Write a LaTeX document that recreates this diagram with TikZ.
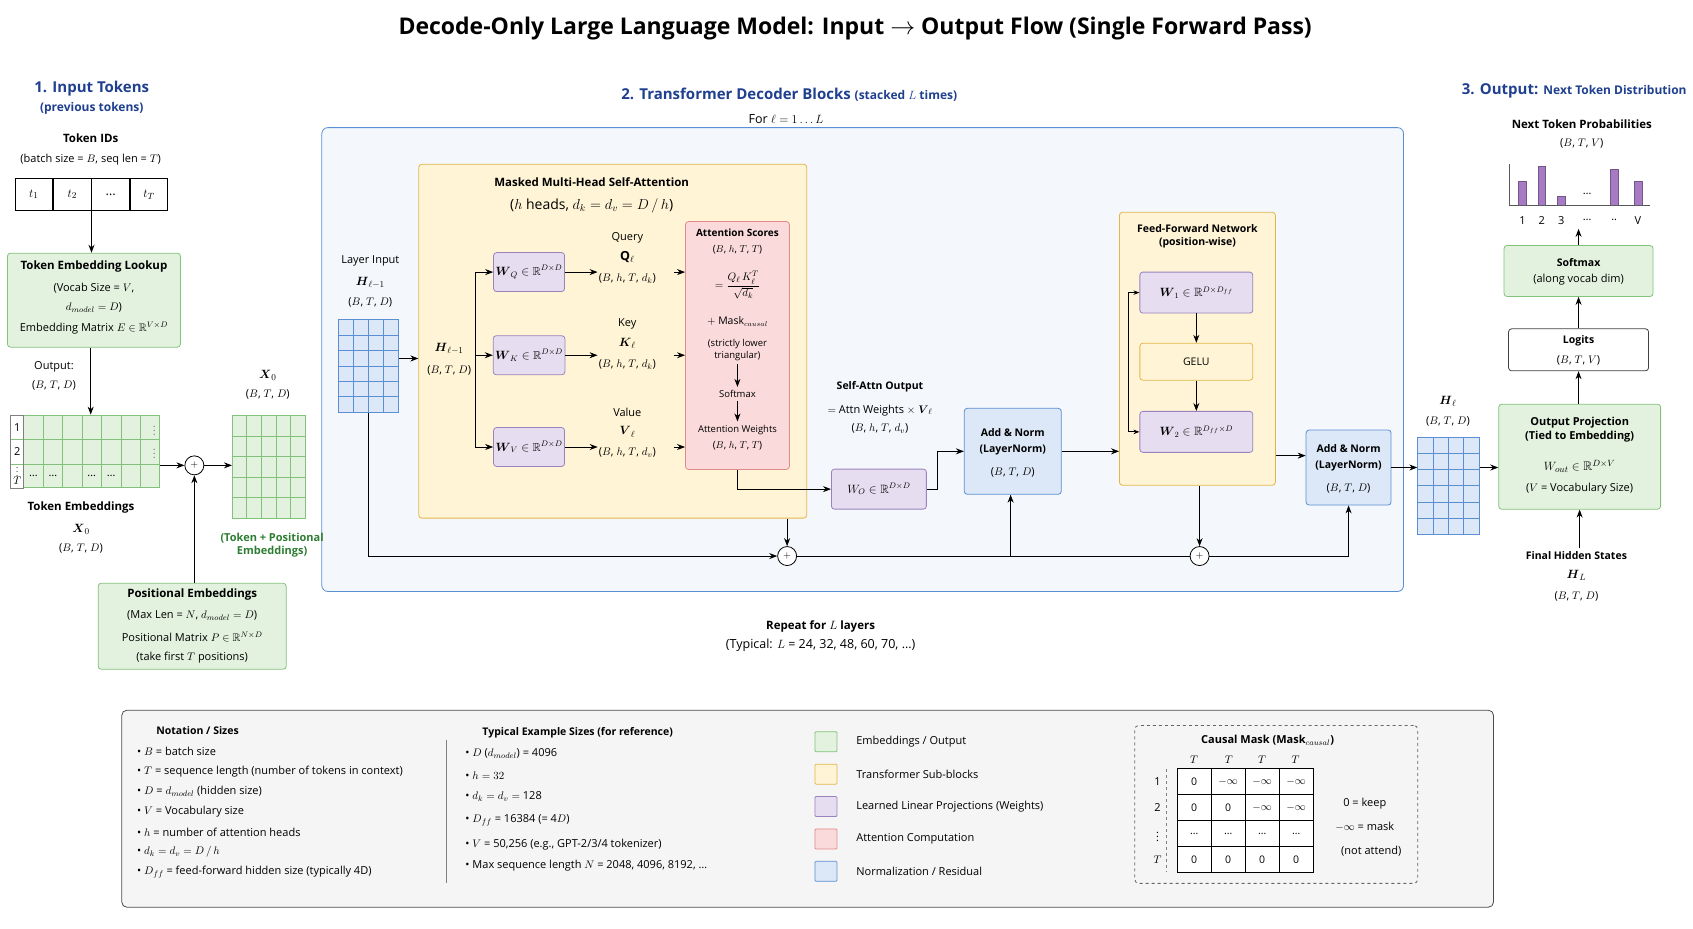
\documentclass[tikz,border=0pt]{standalone}
\usepackage{fontspec}
\usepackage{amsmath,amssymb}
\setmainfont{Open Sans}
\usetikzlibrary{arrows.meta,positioning,calc}
\definecolor{grnL}{HTML}{E3F2DF}\definecolor{grnD}{HTML}{82C27A}
\definecolor{yelL}{HTML}{FFF4D6}\definecolor{yelD}{HTML}{E3B64A}
\definecolor{purL}{HTML}{E6DEF0}\definecolor{purD}{HTML}{9A82BE}
\definecolor{pnkL}{HTML}{FADADA}\definecolor{pnkD}{HTML}{E28A8A}
\definecolor{bluL}{HTML}{DCE8F8}\definecolor{bluD}{HTML}{5B8FD3}
\definecolor{blkL}{HTML}{F4F7FC}\definecolor{hdr}{HTML}{1F3F8F}
\definecolor{gtxt}{HTML}{2E7D32}\definecolor{barc}{HTML}{A77BC4}
\newcommand{\fs}[1]{\fontsize{#1}{\fpeval{1.25*#1}}\selectfont}
\tikzset{
  box/.style={draw, rounded corners=3pt, thick, align=center, inner sep=2pt},
  green/.style={box, draw=grnD, fill=grnL},
  yel/.style={box, draw=yelD, fill=yelL},
  pur/.style={box, draw=purD, fill=purL},
  pnk/.style={box, draw=pnkD, fill=pnkL},
  blu/.style={box, draw=bluD, fill=bluL},
  txt/.style={align=center, font=\fs{12.5}, inner sep=1pt},
  sm/.style={align=center, font=\fs{11}, inner sep=1pt},
  bt/.style={align=center, font=\fs{11.5}\bfseries, inner sep=1pt},
  li/.style={anchor=west, font=\fs{11}, inner sep=1pt},
  arr/.style={-{Stealth[length=8pt,width=6pt]}, thick},
  plus/.style={draw, circle, thick, fill=white, minimum size=19pt, inner sep=0pt},
  cell/.style={draw, thick, minimum width=37.6pt, minimum height=32.4pt, inner sep=0pt, font=\fs{13}}
}
\begin{document}
\begin{tikzpicture}[x=1.08pt,y=-1.08pt]
\useasboundingbox (0,0) rectangle (1568,860);

% title and headers
\node[font=\fs{23}\bfseries] (title) at (792,26) {Decode-Only Large Language Model: Input \(\rightarrow\) Output Flow (Single Forward Pass)};
\node[font=\fs{15}\bfseries, text=hdr] (h1) at (85,82) {1. Input Tokens};
\node[font=\fs{12}\bfseries, text=hdr] (h1b) at (85,100) {(previous tokens)};
\node[font=\fs{15}\bfseries, text=hdr] (h2) at (731,88) {2. Transformer Decoder Blocks {\fs{12}(stacked \(L\) times)}};
\node[txt] (forl) at (728,110) {For \(\ell = 1 \ldots L\)};
\node[font=\fs{15}\bfseries, text=hdr] (h3) at (1458,84) {3. Output: {\fs{12}Next Token Distribution}};

% big block
\node[draw=bluD, fill=blkL, thick, rounded corners=6pt, minimum width=1082pt, minimum height=464pt] (block) at (799,333) {};

% input tokens
\node[bt] (tidl) at (84,128) {Token IDs};
\node[sm] (tids) at (84,148) {(batch size = \(B\), seq len = \(T\))};
\node[cell] (t1) at (31.4,180) {\(t_1\)};
\node[cell, right=0pt of t1] (t2) {\(t_2\)};
\node[cell, right=0pt of t2] (t3) {\dots};
\node[cell, right=0pt of t3] (t4) {\(t_T\)};

\node[green, minimum width=173pt, minimum height=94pt] (tokemb) at (87,278) {};
\node[bt] (te1) at (87,247) {Token Embedding Lookup};
\node[sm] (te2) at (87,267) {(Vocab Size = \(V\),};
\node[sm] (te3) at (87,285) {\(d_{model} = D\))};
\node[sm] (te4) at (87,304) {Embedding Matrix \(E \in \mathbb{R}^{V\times D}\)};
\node[sm] (out1) at (50,340) {Output:};
\node[sm] (out2) at (50,357) {(\(B\), \(T\), \(D\))};

% token embeddings grid
\node[draw=grnD, fill=grnL, thick, minimum width=149pt, minimum height=72pt, inner sep=0pt] (xemb) at (79,418.5) {};
\fill[white] (10,385) rectangle (22,452);
\foreach \i in {0,...,6} \draw[grnD, thick] (22+\i*18.0,385) -- ++(0,67);
\draw[grnD, thick] (10,407) -- (148,407) (10,430) -- (148,430);
\draw[gray, thick] (10,385) rectangle (22,452);
\node[sm] (r1) at (16,396) {1};
\node[sm] (r2) at (16,418) {2};
\node[font=\fs{8}, inner sep=0pt] (r3) at (16,434) {\(\vdots\)};
\node[sm] (r4) at (16,445) {\(T\)};
\foreach \i in {0,1,3,4} \node[sm] at (31+\i*18,441) {\dots};
\foreach \y in {396,418} \node[sm, gray] at (143,\y) {\(\vdots\)};
\node[bt] (tel) at (75,470) {Token Embeddings};
\node[txt] (tex) at (75,490) {\(\boldsymbol{X}_0\)};
\node[sm] (ted) at (75,508) {(\(B\), \(T\), \(D\))};

\node[plus] (add0) at (180,431) {\(+\)};

\node[draw=grnD, fill=grnL, thick, minimum width=73pt, minimum height=103pt, inner sep=0pt] (x0) at (249,432.5) {};
\foreach \i in {1,...,4} \draw[grnD, thick] (215+\i*13.6,385) -- ++(0,95);
\foreach \i in {1,...,4} \draw[grnD, thick] (215,385+\i*19) -- ++(68,0);
\node[txt] (x0l) at (248,348) {\(\boldsymbol{X}_0\)};
\node[sm] (x0d) at (248,365) {(\(B\), \(T\), \(D\))};
\node[font=\fs{11}\bfseries, text=gtxt, align=center] (x0c) at (252,505) {(Token + Positional\\Embeddings)};

\node[green, minimum width=188pt, minimum height=86pt] (posemb) at (178,580) {};
\node[bt] (pe1) at (178,551) {Positional Embeddings};
\node[sm] (pe2) at (178,570) {(Max Len = \(N\), \(d_{model} = D\))};
\node[sm] (pe3) at (178,590) {Positional Matrix \(P \in \mathbb{R}^{N\times D}\)};
\node[sm] (pe4) at (178,609) {(take first \(T\) positions)};

\draw[arr] (t2.south east) -- (t2.south east |- tokemb.north);
\draw[arr] (tokemb.south -| 84,0) -- (84,384);
\draw[arr] (xemb.east |- add0) -- (add0);
\draw[arr] (add0) -- (add0 -| x0.west);
\draw[arr] (posemb.north -| add0) -- (add0);

% layer input
\node[sm] (li1) at (343,242) {Layer Input};
\node[txt] (li2) at (343,262) {\(\boldsymbol{H}_{\ell-1}\)};
\node[sm] (li3) at (343,280) {(\(B\), \(T\), \(D\))};
\node[draw=bluD, fill=bluL, thick, minimum width=60.5pt, minimum height=93pt, inner sep=0pt] (hin) at (341,339) {};
\foreach \i in {1,...,3} \draw[bluD, thick] (313+\i*14,296) -- ++(0,86);
\foreach \i in {1,...,5} \draw[bluD, thick] (313,296+\i*14.3) -- ++(56,0);

% attention block
\node[yel, minimum width=388pt, minimum height=354pt] (attn) at (567.5,316) {};
\node[bt] (at1) at (548,169) {Masked Multi-Head Self-Attention};
\node[font=\fs{14}] (at2) at (548,191) {(\(h\) heads, \(d_k = d_v = D\,/\,h\))};
\node[txt] (hh1) at (416,323) {\(\boldsymbol{H}_{\ell-1}\)};
\node[sm] (hh2) at (416,343) {(\(B\), \(T\), \(D\))};
\coordinate (split) at (440,332);
\node[pur, minimum width=71pt, minimum height=39pt, font=\fs{11.5}] (wq) at (490,252) {\(\boldsymbol{W}_Q \in \mathbb{R}^{D\times D}\)};
\node[pur, minimum width=71pt, minimum height=39pt, font=\fs{11.5}] (wk) at (490,329) {\(\boldsymbol{W}_K \in \mathbb{R}^{D\times D}\)};
\node[pur, minimum width=71pt, minimum height=39pt, font=\fs{11.5}] (wv) at (490,414) {\(\boldsymbol{W}_V \in \mathbb{R}^{D\times D}\)};
\node[sm] (q1) at (581,220) {Query};
\node[txt] (q2) at (581,238) {\(\mathbf{Q}_\ell\)};
\node[sm] (q3) at (581,258) {(\(B\), \(h\), \(T\), \(d_k\))};
\node[sm] (k1) at (581,300) {Key};
\node[txt] (k2) at (581,318) {\(\boldsymbol{K}_\ell\)};
\node[sm] (k3) at (581,338) {(\(B\), \(h\), \(T\), \(d_k\))};
\node[sm] (v1) at (581,382) {Value};
\node[txt] (v2) at (581,400) {\(\boldsymbol{V}_\ell\)};
\node[sm] (v3) at (581,419) {(\(B\), \(h\), \(T\), \(d_v\))};

\node[pnk, minimum width=104pt, minimum height=248pt] (scores) at (683,320) {};
\node[font=\fs{10}\bfseries] (s1) at (683,216) {Attention Scores};
\node[font=\fs{10}] (s2) at (683,231) {(\(B\), \(h\), \(T\), \(T\))};
\node[font=\fs{11}, inner sep=0pt] (s3) at (683,264) {\(= \dfrac{Q_\ell\,K_\ell^T}{\sqrt{d_k}}\)};
\node[font=\fs{10.5}] (s4) at (683,298) {\(+\) Mask\(_{causal}\)};
\node[font=\fs{9.5}, align=center] (s5) at (683,324) {(strictly lower\\triangular)};
\node[font=\fs{9.5}] (s6) at (683,365) {Softmax};
\node[font=\fs{9.5}] (s7) at (683,398) {Attention Weights};
\node[font=\fs{10}] (s8) at (683,413) {(\(B\), \(h\), \(T\), \(T\))};
\draw[arr] (s5.south) -- (s6.north);
\draw[arr] (s6.south) -- (s7.north);

\draw[arr] (hin.east |- split) -- (attn.west |- split);
\draw[thick] (wq.west -| split) -- (wv.west -| split);
\draw[arr] (wq.west -| split) -- (wq.west);
\draw[arr] (wk.west -| split) -- (wk.west);
\draw[arr] (wv.west -| split) -- (wv.west);
\draw[arr] (wq.east) -- (q3.west |- wq);
\draw[arr] (wk.east) -- (k3.west |- wk);
\draw[arr] (wv.east) -- (v3.west |- wv);
\foreach \n in {wq,wk,wv} \draw[arr] (624,0 |- \n) -- (scores.west |- \n);

% output projection of attention
\node[pur, minimum width=95pt, minimum height=40pt, font=\fs{12}] (wo) at (814,453) {\(W_O \in \mathbb{R}^{D\times D}\)};
\node[font=\fs{10.5}\bfseries] (so1) at (815,358) {Self-Attn Output};
\node[sm] (so2) at (815,380) {\(=\) Attn Weights \(\times\) \(\boldsymbol{V}_\ell\)};
\node[sm] (so3) at (815,397) {(\(B\), \(h\), \(T\), \(d_v\))};
\draw[arr] (scores.south) |- (wo.west);

\node[blu, minimum width=97pt, minimum height=86pt] (an1) at (938,418) {};
\node[font=\fs{10.5}\bfseries, align=center] (an1t) at (938,409) {Add \& Norm\\[3pt](LayerNorm)};
\node[sm] (an1d) at (938,438) {(\(B\), \(T\), \(D\))};
\draw[arr] (wo.east) -- ++(10,0) |- (an1.west);

% feed-forward
\node[yel, minimum width=156pt, minimum height=273pt] (ffn) at (1109,323) {};
\node[font=\fs{10.5}\bfseries, align=center] (ff1) at (1109,219) {Feed-Forward Network\\(position-wise)};
\node[pur, minimum width=113pt, minimum height=41pt, font=\fs{12}] (w1) at (1108,271) {\(\boldsymbol{W}_1 \in \mathbb{R}^{D\times D_{ff}}\)};
\node[yel, minimum width=113pt, minimum height=37pt] (gelu) at (1108,335) {\fs{10.5}GELU};
\node[pur, minimum width=113pt, minimum height=41pt, font=\fs{12}] (w2) at (1108,400) {\(\boldsymbol{W}_2 \in \mathbb{R}^{D_{ff}\times D}\)};
\draw[arr] (w1) -- (gelu);
\draw[arr] (gelu) -- (w2);
\draw[{Stealth[length=6pt]}-{Stealth[length=6pt]}, thick] (w1.west) -- ++(-10,0) |- (w2.west);
\draw[arr] (an1.east) -- (ffn.west |- an1.east);

\node[blu, minimum width=85pt, minimum height=75pt] (an2) at (1249,433) {};
\node[font=\fs{10.5}\bfseries, align=center] (an2t) at (1249,424) {Add \& Norm\\[3pt](LayerNorm)};
\node[sm] (an2d) at (1249,452) {(\(B\), \(T\), \(D\))};
\draw[arr] (ffn.east |- 0,422) -- (an2.west |- 0,422);

% residuals
\node[plus] (res1) at (729,515) {\(+\)};
\node[plus] (res2) at (1111,515) {\(+\)};
\draw[arr] (hin.south) |- (res1.west);
\draw[arr] (attn.south -| res1) -- (res1);
\draw[thick] (res1.east) -- (res2.west);
\draw[arr] (936,515) -- (936,0 |- an1.south);
\draw[arr] (ffn.south -| res2) -- (res2);
\draw[arr] (res2.east) -| (an2.south);

\node[bt] (rep1) at (760,580) {Repeat for \(L\) layers};
\node[txt] (rep2) at (760,598) {(Typical: \(L\) = 24, 32, 48, 60, 70, \dots)};

% output side
\node[txt] (hl1) at (1341,372) {\(\boldsymbol{H}_\ell\)};
\node[sm] (hl2) at (1341,390) {(\(B\), \(T\), \(D\))};
\node[draw=bluD, fill=bluL, thick, minimum width=61.5pt, minimum height=97pt, inner sep=0pt] (hout) at (1341.5,450) {};
\foreach \i in {1,...,3} \draw[bluD, thick] (1313+\i*14.25,405) -- ++(0,90);
\foreach \i in {1,...,5} \draw[bluD, thick] (1313,405+\i*15) -- ++(57,0);
\draw[arr] (an2.east |- 0,433) -- (hout.west |- 0,433);

\node[green, minimum width=162pt, minimum height=105pt] (oproj) at (1463,423) {};
\node[font=\fs{11}\bfseries, align=center] (op1) at (1463,398) {Output Projection\\(Tied to Embedding)};
\node[txt] (op2) at (1463,432) {\(W_{out} \in \mathbb{R}^{D\times V}\)};
\node[sm] (op3) at (1463,453) {(\(V\) = Vocabulary Size)};
\draw[arr] (hout.east |- 0,433) -- (oproj.west |- 0,433);

\node[box, draw=black!75, fill=white, minimum width=140pt, minimum height=42pt] (logits) at (1462,324) {};
\node[font=\fs{10.5}\bfseries] (lg1) at (1462,316) {Logits};
\node[sm] (lg2) at (1462,334) {(\(B\), \(T\), \(V\))};
\node[green, minimum width=149pt, minimum height=51pt] (smax) at (1462,251) {};
\node[font=\fs{10.5}\bfseries] (sm1) at (1462,243) {Softmax};
\node[sm] (sm2) at (1462,259) {(along vocab dim)};
\node[bt] (np1) at (1465,115) {Next Token Probabilities};
\node[sm] (np2) at (1465,133) {(\(B\), \(T\), \(V\))};
\coordinate (chart) at (1462,212);
\foreach \x/\h in {1410/22,1428/36,1446/8,1495/33,1517/22}
  \fill[barc, draw=barc!70!black] (\x-3.5,190) rectangle (\x+3.5,190-\h);
\draw[thick, gray!70!black] (1398,152) -- (1398,190) -- (1528,190);
\foreach \x/\t in {1410/1,1428/2,1446/3,1470/\dots,1495/..,1517/V} \node[sm] at (\x,204) {\t};
\node[sm] at (1470,180) {\dots};
\draw[arr] (oproj.north -| logits) -- (logits.south);
\draw[arr] (logits.north) -- (smax.south);
\draw[arr] (smax.north) -- (chart);

\node[font=\fs{10.5}\bfseries] (fh1) at (1460,515) {Final Hidden States};
\node[txt] (fh2) at (1460,533) {\(\boldsymbol{H}_L\)};
\node[sm] (fh3) at (1460,552) {(\(B\), \(T\), \(D\))};
\draw[arr] (fh1.north -| oproj) -- (oproj.south);

% legend
\node[draw=black!70, fill=black!4, thick, rounded corners=5pt, minimum width=1372pt, minimum height=197pt] (legend) at (748,749) {};
\node[font=\fs{10.5}\bfseries] (n0) at (183,677) {Notation / Sizes};
\foreach \y/\t in {696/{\(B\) = batch size},715/{\(T\) = sequence length (number of tokens in context)},733/{\(D\) = \(d_{model}\) (hidden size)},752/{\(V\) = Vocabulary size},771/{\(h\) = number of attention heads},789/{\(d_k = d_v = D\,/\,h\)},808/{\(D_{ff}\) = feed-forward hidden size (typically 4D)}}
  \node[li] at (126,\y) {\textbullet\ \t};
\draw[thick, gray] (413,685) -- (413,818);
\node[font=\fs{10.5}\bfseries] (e0) at (535,679) {Typical Example Sizes (for reference)};
\foreach \y/\t in {698/{\(D\) (\(d_{model}\)) = 4096},718/{\(h = 32\)},738/{\(d_k = d_v =\) 128},760/{\(D_{ff}\) = 16384 (= 4\(D\))},782/{\(V\) = 50,256 (e.g., GPT-2/3/4 tokenizer)},802/{Max sequence length \(N\) = 2048, 4096, 8192, \dots}}
  \node[li] at (430,\y) {\textbullet\ \t};
\foreach \y/\s/\t in {687/green/{Embeddings / Output},717/yel/{Transformer Sub-blocks},747/pur/{Learned Linear Projections (Weights)},777/pnk/{Attention Computation},807/blu/{Normalization / Residual}}{
  \node[\s, minimum width=22pt, minimum height=20pt, rounded corners=1pt] at (765,\y) {};
  \node[li] at (792,\y) {\t};
}
\node[draw=black!60, dashed, thick, rounded corners=4pt, minimum width=283pt, minimum height=158pt] (cmask) at (1182,745) {};
\node[font=\fs{11}\bfseries] (cm0) at (1174,686) {Causal Mask (Mask\(_{causal}\))};
\foreach \x in {1106,1138,1169,1200} \node[sm] at (\x,704) {\(T\)};
\foreach \r/\lab/\row in {0/1/{0,$-\infty$,$-\infty$,$-\infty$},1/2/{0,0,$-\infty$,$-\infty$},2/{\(\vdots\)}/{\dots,\dots,\dots,\dots},3/{\(T\)}/{0,0,0,0}}{
  \node[sm] at (1072,724+\r*24) {\lab};
  \foreach \c [count=\j from 0] in \row
    \node[draw, thick, fill=white, minimum width=34pt, minimum height=26pt, font=\fs{10.5}, inner sep=0pt] at (1106+\j*31.5,724+\r*24) {\c};
}
\draw[thick, dashed, gray] (1080,712) -- (1080,808);
\node[sm] (k0) at (1264,744) {0 = keep};
\node[sm] (k1) at (1264,766) {\(-\infty\) = mask};
\node[sm] (k2) at (1270,788) {(not attend)};
\end{tikzpicture}
\end{document}
